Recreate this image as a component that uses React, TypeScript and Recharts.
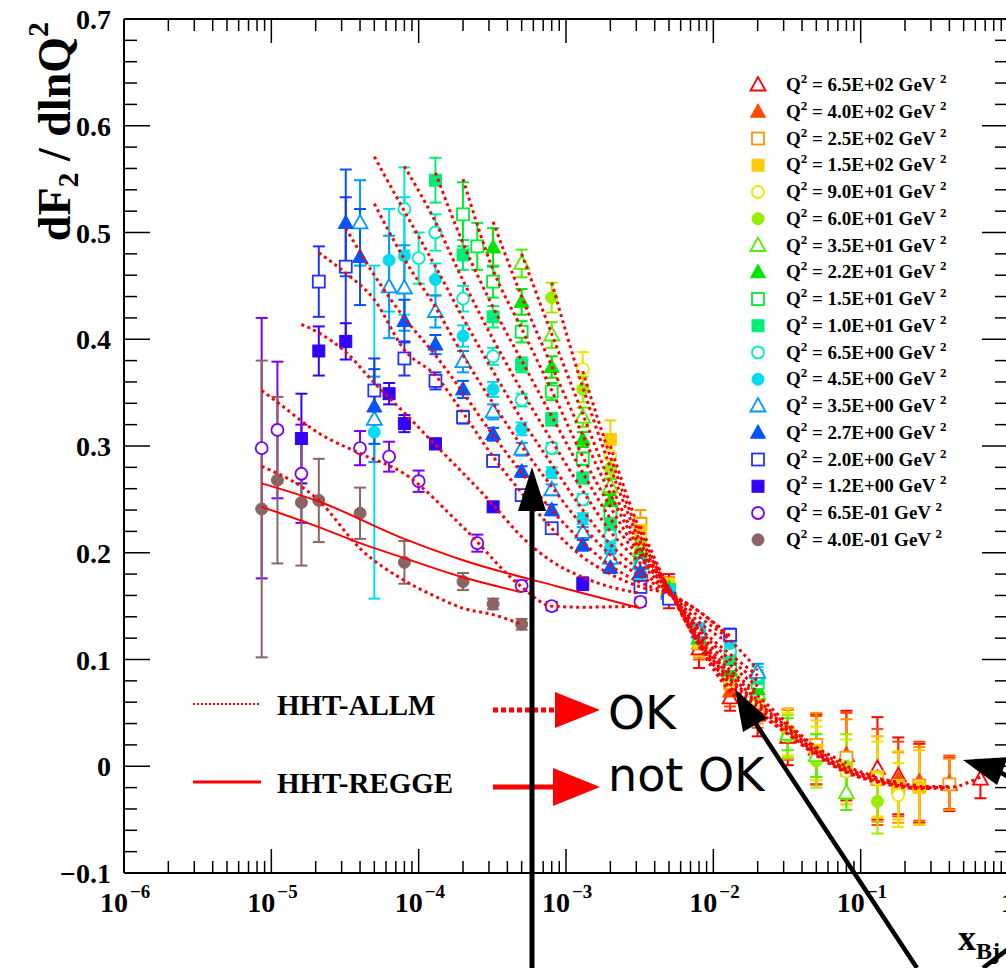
import React from 'react';
import { ComposedChart, Scatter, Line, XAxis, YAxis, ErrorBar } from 'recharts';

const SERIF = "'Liberation Serif','Times New Roman',Times,serif";
const COMIC = "'Comic Sans MS','DejaVu Sans',sans-serif";

// data points: [x, dF2/dlnQ2, error]
const q650 = [[5.0e-3, 0.164, 0.016], [8.0e-3, 0.110, 0.018], [1.3e-2, 0.064, 0.012], [2.0e-2, 0.048, 0.020], [3.2e-2, 0.027, 0.026], [5.0e-2, 0.016, 0.033], [8.0e-2, 0.010, 0.042], [1.3e-1, -0.002, 0.048], [1.8e-1, -0.009, 0.036], [2.5e-1, -0.016, 0.037], [4.0e-1, -0.017, 0.025], [6.5e-1, -0.012, 0.018]];
const q400 = [[5.0e-3, 0.165, 0.012], [8.0e-3, 0.115, 0.015], [1.3e-2, 0.070, 0.014], [2.0e-2, 0.052, 0.016], [3.2e-2, 0.030, 0.024], [5.0e-2, 0.015, 0.032], [8.0e-2, 0.010, 0.040], [1.3e-1, -0.010, 0.045], [1.8e-1, -0.012, 0.035], [2.5e-1, -0.014, 0.037], [4.0e-1, -0.015, 0.025]];
const q250 = [[3.2e-3, 0.227, 0.013], [5.0e-3, 0.165, 0.010], [8.0e-3, 0.115, 0.013], [1.3e-2, 0.078, 0.013], [2.0e-2, 0.055, 0.015], [3.2e-2, 0.030, 0.023], [5.0e-2, 0.020, 0.030], [8.0e-2, 0.008, 0.036], [1.3e-1, -0.012, 0.040], [1.8e-1, -0.020, 0.033], [2.5e-1, -0.018, 0.036], [4.0e-1, -0.017, 0.024]];
const q150 = [[2.0e-3, 0.306, 0.018], [3.2e-3, 0.221, 0.012], [5.0e-3, 0.168, 0.008], [8.0e-3, 0.116, 0.012], [1.3e-2, 0.080, 0.012], [2.0e-2, 0.058, 0.014], [3.2e-2, 0.032, 0.022], [5.0e-2, 0.015, 0.028], [8.0e-2, -0.003, 0.033], [1.3e-1, -0.010, 0.038], [1.8e-1, -0.018, 0.032], [2.5e-1, -0.020, 0.035]];
const q90 = [[1.3e-3, 0.372, 0.016], [2.0e-3, 0.291, 0.012], [3.2e-3, 0.214, 0.009], [5.0e-3, 0.168, 0.007], [8.0e-3, 0.117, 0.010], [1.3e-2, 0.082, 0.011], [2.0e-2, 0.060, 0.013], [3.2e-2, 0.030, 0.020], [5.0e-2, 0.012, 0.025], [8.0e-2, -0.005, 0.030], [1.3e-1, -0.012, 0.035], [1.8e-1, -0.027, 0.030]];
const q60 = [[8.0e-4, 0.439, 0.014], [1.3e-3, 0.353, 0.012], [2.0e-3, 0.279, 0.009], [3.2e-3, 0.209, 0.007], [5.0e-3, 0.167, 0.006], [8.0e-3, 0.118, 0.009], [1.3e-2, 0.085, 0.010], [2.0e-2, 0.065, 0.012], [3.2e-2, 0.028, 0.020], [5.0e-2, 0.005, 0.025], [8.0e-2, 0.000, 0.030], [1.3e-1, -0.033, 0.030]];
const q35 = [[5.0e-4, 0.471, 0.013], [8.0e-4, 0.404, 0.012], [1.3e-3, 0.327, 0.009], [2.0e-3, 0.262, 0.007], [3.2e-3, 0.202, 0.006], [5.0e-3, 0.167, 0.006], [8.0e-3, 0.120, 0.008], [1.3e-2, 0.087, 0.009], [2.0e-2, 0.068, 0.010], [3.2e-2, 0.030, 0.015], [5.0e-2, 0.010, 0.020], [8.0e-2, -0.025, 0.016]];
const q22 = [[3.2e-4, 0.486, 0.018], [5.0e-4, 0.435, 0.012], [8.0e-4, 0.374, 0.010], [1.3e-3, 0.306, 0.007], [2.0e-3, 0.248, 0.006], [3.2e-3, 0.198, 0.005], [5.0e-3, 0.166, 0.005], [8.0e-3, 0.120, 0.007], [1.3e-2, 0.090, 0.008], [2.0e-2, 0.072, 0.009]];
const q15 = [[2.0e-4, 0.517, 0.030], [2.5e-4, 0.487, 0.022], [3.2e-4, 0.454, 0.015], [5.0e-4, 0.407, 0.010], [8.0e-4, 0.351, 0.008], [1.3e-3, 0.288, 0.006], [2.0e-3, 0.238, 0.005], [3.2e-3, 0.193, 0.005], [5.0e-3, 0.165, 0.005], [8.0e-3, 0.122, 0.007], [1.3e-2, 0.095, 0.008], [2.0e-2, 0.078, 0.009]];
const q10 = [[1.3e-4, 0.549, 0.021], [2.0e-4, 0.479, 0.014], [3.2e-4, 0.421, 0.010], [5.0e-4, 0.376, 0.007], [8.0e-4, 0.325, 0.006], [1.3e-3, 0.270, 0.005], [2.0e-3, 0.227, 0.005], [3.2e-3, 0.191, 0.005], [5.0e-3, 0.165, 0.005], [8.0e-3, 0.124, 0.006], [1.3e-2, 0.100, 0.007], [2.0e-2, 0.082, 0.008]];
const q6_5 = [[8.0e-5, 0.522, 0.039], [1.0e-4, 0.476, 0.024], [1.3e-4, 0.500, 0.017], [2.0e-4, 0.438, 0.012], [3.2e-4, 0.384, 0.008], [5.0e-4, 0.343, 0.006], [8.0e-4, 0.298, 0.005], [1.3e-3, 0.250, 0.005], [2.0e-3, 0.216, 0.005], [3.2e-3, 0.187, 0.005], [5.0e-3, 0.164, 0.005], [8.0e-3, 0.126, 0.006], [1.3e-2, 0.108, 0.007], [2.0e-2, 0.085, 0.008]];
const q4_5 = [[5.0e-5, 0.313, 0.156], [6.3e-5, 0.474, 0.048], [8.0e-5, 0.478, 0.055], [1.3e-4, 0.456, 0.015], [2.0e-4, 0.403, 0.010], [3.2e-4, 0.353, 0.007], [5.0e-4, 0.316, 0.006], [8.0e-4, 0.275, 0.005], [1.3e-3, 0.232, 0.005], [2.0e-3, 0.204, 0.005], [3.2e-3, 0.180, 0.005], [5.0e-3, 0.165, 0.005], [8.0e-3, 0.128, 0.006], [1.3e-2, 0.115, 0.007]];
const q3_5 = [[4.0e-5, 0.509, 0.040], [5.0e-5, 0.325, 0.040], [6.3e-5, 0.449, 0.048], [8.0e-5, 0.448, 0.040], [1.3e-4, 0.426, 0.015], [2.0e-4, 0.379, 0.010], [3.2e-4, 0.332, 0.007], [5.0e-4, 0.297, 0.006], [8.0e-4, 0.259, 0.005], [1.3e-3, 0.219, 0.005], [2.0e-3, 0.195, 0.005], [3.2e-3, 0.190, 0.005], [5.0e-3, 0.162, 0.005], [8.0e-3, 0.126, 0.006], [2.0e-2, 0.088, 0.008]];
const q2_7 = [[3.2e-5, 0.509, 0.050], [4.0e-5, 0.477, 0.045], [5.0e-5, 0.337, 0.035], [8.0e-5, 0.417, 0.020], [1.3e-4, 0.395, 0.009], [2.0e-4, 0.353, 0.008], [3.2e-4, 0.311, 0.006], [5.0e-4, 0.276, 0.005], [8.0e-4, 0.240, 0.005], [1.3e-3, 0.207, 0.005], [2.0e-3, 0.186, 0.005], [3.2e-3, 0.182, 0.005]];
const q2_0 = [[2.1e-5, 0.454, 0.033], [3.2e-5, 0.468, 0.065], [5.0e-5, 0.352, 0.030], [8.0e-5, 0.382, 0.016], [1.3e-4, 0.361, 0.008], [2.0e-4, 0.327, 0.006], [3.2e-4, 0.286, 0.005], [5.0e-4, 0.254, 0.004], [8.0e-4, 0.223, 0.004], [3.2e-3, 0.168, 0.004], [5.0e-3, 0.157, 0.004], [1.3e-2, 0.123, 0.006]];
const q1_2 = [[1.6e-5, 0.307, 0.042], [2.1e-5, 0.389, 0.023], [3.2e-5, 0.398, 0.017], [6.3e-5, 0.349, 0.010], [8.0e-5, 0.321, 0.008], [1.3e-4, 0.302, 0.005], [3.2e-4, 0.243, 0.004], [1.3e-3, 0.171, 0.006]];
const q0_65 = [[8.6e-6, 0.298, 0.122], [1.1e-5, 0.315, 0.064], [1.6e-5, 0.274, 0.046], [4.0e-5, 0.298, 0.016], [6.3e-5, 0.290, 0.014], [1.0e-4, 0.267, 0.010], [2.5e-4, 0.209, 0.008], [5.0e-4, 0.169, 0.005], [8.0e-4, 0.150, 0.004], [3.2e-3, 0.154, 0.004]];
const q0_40 = [[8.6e-6, 0.241, 0.139], [1.1e-5, 0.268, 0.078], [1.6e-5, 0.247, 0.059], [2.1e-5, 0.249, 0.039], [4.0e-5, 0.237, 0.024], [8.0e-5, 0.191, 0.020], [2.0e-4, 0.173, 0.008], [3.2e-4, 0.152, 0.005], [5.0e-4, 0.133, 0.005]];

// HHT-ALLM curves: [x, value]
const allm650 = [[8.0e-3, 0.112], [1.3e-2, 0.070], [2.0e-2, 0.050], [3.2e-2, 0.030], [5.0e-2, 0.010], [8.0e-2, -0.006], [1.3e-1, -0.015], [1.8e-1, -0.019], [2.5e-1, -0.021], [4.0e-1, -0.020], [6.5e-1, -0.010]];
const allm400 = [[5.0e-3, 0.166], [8.0e-3, 0.113], [1.3e-2, 0.074], [2.0e-2, 0.052], [3.2e-2, 0.031], [5.0e-2, 0.011], [8.0e-2, -0.005], [1.3e-1, -0.014], [1.8e-1, -0.018], [2.5e-1, -0.020], [4.0e-1, -0.020]];
const allm250 = [[3.2e-3, 0.225], [5.0e-3, 0.166], [8.0e-3, 0.114], [1.3e-2, 0.077], [2.0e-2, 0.055], [3.2e-2, 0.033], [5.0e-2, 0.012], [8.0e-2, -0.004], [1.3e-1, -0.013], [1.8e-1, -0.017], [2.5e-1, -0.019], [4.0e-1, -0.019]];
const allm150 = [[2.0e-3, 0.300], [3.2e-3, 0.220], [5.0e-3, 0.166], [8.0e-3, 0.115], [1.3e-2, 0.080], [2.0e-2, 0.058], [3.2e-2, 0.034], [5.0e-2, 0.013], [8.0e-2, -0.003], [1.3e-1, -0.012], [1.8e-1, -0.016], [2.5e-1, -0.018]];
const allm90 = [[1.3e-3, 0.370], [2.0e-3, 0.290], [3.2e-3, 0.215], [5.0e-3, 0.166], [8.0e-3, 0.117], [1.3e-2, 0.082], [2.0e-2, 0.060], [3.2e-2, 0.036], [5.0e-2, 0.014], [8.0e-2, -0.002], [1.3e-1, -0.011], [1.8e-1, -0.015]];
const allm60 = [[8.0e-4, 0.453], [1.3e-3, 0.355], [2.0e-3, 0.280], [3.2e-3, 0.210], [5.0e-3, 0.165], [8.0e-3, 0.118], [1.3e-2, 0.085], [2.0e-2, 0.062], [3.2e-2, 0.038], [5.0e-2, 0.016], [8.0e-2, 0.000], [1.3e-1, -0.010]];
const allm35 = [[5.0e-4, 0.480], [8.0e-4, 0.405], [1.3e-3, 0.330], [2.0e-3, 0.265], [3.2e-3, 0.205], [5.0e-3, 0.165], [8.0e-3, 0.120], [1.3e-2, 0.087], [2.0e-2, 0.066], [3.2e-2, 0.040], [5.0e-2, 0.018], [8.0e-2, 0.003]];
const allm22 = [[3.2e-4, 0.510], [5.0e-4, 0.440], [8.0e-4, 0.375], [1.3e-3, 0.310], [2.0e-3, 0.255], [3.2e-3, 0.202], [5.0e-3, 0.165], [8.0e-3, 0.122], [1.3e-2, 0.090], [2.0e-2, 0.070]];
const allm15 = [[2.0e-4, 0.550], [3.2e-4, 0.465], [5.0e-4, 0.410], [8.0e-4, 0.352], [1.3e-3, 0.290], [2.0e-3, 0.243], [3.2e-3, 0.198], [5.0e-3, 0.164], [8.0e-3, 0.125], [1.3e-2, 0.095], [2.0e-2, 0.075]];
const allm10 = [[1.3e-4, 0.556], [2.0e-4, 0.490], [3.2e-4, 0.430], [5.0e-4, 0.380], [8.0e-4, 0.328], [1.3e-3, 0.275], [2.0e-3, 0.232], [3.2e-3, 0.195], [5.0e-3, 0.164], [8.0e-3, 0.128], [1.3e-2, 0.100], [2.0e-2, 0.080]];
const allm6_5 = [[8.0e-5, 0.562], [1.3e-4, 0.510], [2.0e-4, 0.455], [3.2e-4, 0.400], [5.0e-4, 0.352], [8.0e-4, 0.305], [1.3e-3, 0.258], [2.0e-3, 0.220], [3.2e-3, 0.190], [5.0e-3, 0.163], [8.0e-3, 0.130], [1.3e-2, 0.105], [2.0e-2, 0.085]];
const allm4_5 = [[5.0e-5, 0.571], [8.0e-5, 0.520], [1.3e-4, 0.468], [2.0e-4, 0.420], [3.2e-4, 0.370], [5.0e-4, 0.325], [8.0e-4, 0.283], [1.3e-3, 0.240], [2.0e-3, 0.208], [3.2e-3, 0.183], [5.0e-3, 0.163], [8.0e-3, 0.135], [1.3e-2, 0.115]];
const allm3_5 = [[5.0e-5, 0.527], [8.0e-5, 0.475], [1.3e-4, 0.430], [2.0e-4, 0.385], [3.2e-4, 0.340], [5.0e-4, 0.300], [8.0e-4, 0.262], [1.3e-3, 0.225], [2.0e-3, 0.198], [3.2e-3, 0.178], [5.0e-3, 0.163], [8.0e-3, 0.140], [1.3e-2, 0.118], [2.0e-2, 0.090]];
const allm2_7 = [[3.2e-5, 0.504], [5.0e-5, 0.460], [8.0e-5, 0.420], [1.3e-4, 0.385], [2.0e-4, 0.350], [3.2e-4, 0.310], [5.0e-4, 0.275], [8.0e-4, 0.240], [1.3e-3, 0.210], [2.0e-3, 0.188], [3.2e-3, 0.172], [5.0e-3, 0.162], [8.0e-3, 0.145], [1.3e-2, 0.120]];
const allm2_0 = [[2.1e-5, 0.481], [3.2e-5, 0.462], [5.0e-5, 0.437], [8.0e-5, 0.390], [1.3e-4, 0.366], [2.0e-4, 0.331], [3.2e-4, 0.290], [5.0e-4, 0.256], [8.0e-4, 0.223], [1.3e-3, 0.196], [2.0e-3, 0.180], [3.2e-3, 0.168], [5.0e-3, 0.161], [8.0e-3, 0.145], [1.3e-2, 0.122]];
const allm1_2 = [[1.6e-5, 0.414], [2.1e-5, 0.406], [3.2e-5, 0.388], [5.0e-5, 0.359], [8.0e-5, 0.331], [1.3e-4, 0.301], [3.2e-4, 0.245], [5.0e-4, 0.215], [8.0e-4, 0.192], [1.3e-3, 0.177], [2.0e-3, 0.168], [3.2e-3, 0.162]];
const allm0_65 = [[8.6e-6, 0.352], [1.1e-5, 0.341], [2.1e-5, 0.312], [4.0e-5, 0.293], [8.0e-5, 0.274], [2.0e-4, 0.224], [5.0e-4, 0.168], [8.0e-4, 0.150], [1.3e-3, 0.149], [3.2e-3, 0.150]];
const allm0_40 = [[8.6e-6, 0.281], [2.1e-5, 0.249], [4.0e-5, 0.204], [8.0e-5, 0.174], [1.3e-4, 0.159], [2.0e-4, 0.148], [3.2e-4, 0.142], [5.0e-4, 0.133]];

// HHT-REGGE curves
const regge0_65 = [[8.6e-6, 0.265], [2.1e-5, 0.248], [8.0e-5, 0.213], [2.0e-4, 0.193], [9.0e-4, 0.168], [3.2e-3, 0.148]];
const regge0_40 = [[8.6e-6, 0.243], [2.1e-5, 0.224], [4.0e-5, 0.209], [8.0e-5, 0.195], [2.0e-4, 0.177], [5.0e-4, 0.163]];

const series = [
  { label: '6.5E+02', color: '#ff0000', kind: 'triOpen', pts: q650, allm: allm650 },
  { label: '4.0E+02', color: '#ff4a00', kind: 'tri', pts: q400, allm: allm400 },
  { label: '2.5E+02', color: '#ff9500', kind: 'sqOpen', pts: q250, allm: allm250 },
  { label: '1.5E+02', color: '#ffcc00', kind: 'sq', pts: q150, allm: allm150 },
  { label: '9.0E+01', color: '#e8e800', kind: 'circOpen', pts: q90, allm: allm90 },
  { label: '6.0E+01', color: '#99ee00', kind: 'circ', pts: q60, allm: allm60 },
  { label: '3.5E+01', color: '#55ee00', kind: 'triOpen', pts: q35, allm: allm35 },
  { label: '2.2E+01', color: '#00e600', kind: 'tri', pts: q22, allm: allm22 },
  { label: '1.5E+01', color: '#00ee33', kind: 'sqOpen', pts: q15, allm: allm15 },
  { label: '1.0E+01', color: '#00ee77', kind: 'sq', pts: q10, allm: allm10 },
  { label: '6.5E+00', color: '#00eebb', kind: 'circOpen', pts: q6_5, allm: allm6_5 },
  { label: '4.5E+00', color: '#00ddee', kind: 'circ', pts: q4_5, allm: allm4_5 },
  { label: '3.5E+00', color: '#0099ff', kind: 'triOpen', pts: q3_5, allm: allm3_5 },
  { label: '2.7E+00', color: '#0055ff', kind: 'tri', pts: q2_7, allm: allm2_7 },
  { label: '2.0E+00', color: '#2233ff', kind: 'sqOpen', pts: q2_0, allm: allm2_0 },
  { label: '1.2E+00', color: '#3300ff', kind: 'sq', pts: q1_2, allm: allm1_2 },
  { label: '6.5E-01', color: '#7700ff', kind: 'circOpen', pts: q0_65, allm: allm0_65 },
  { label: '4.0E-01', color: '#8c6464', kind: 'circ', pts: q0_40, allm: allm0_40 },
];

const reggeCurves = [regge0_65, regge0_40];

const xMajor = [1e-6, 1e-5, 1e-4, 1e-3, 1e-2, 1e-1, 1];
const xMajorLabels = ['\u22126', '\u22125', '\u22124', '\u22123', '\u22122', '\u22121', ''];
const yMajor = [-0.1, 0, 0.1, 0.2, 0.3, 0.4, 0.5, 0.6, 0.7];
const yMajorLabels = ['\u22120.1', '0', '0.1', '0.2', '0.3', '0.4', '0.5', '0.6', '0.7'];

const xTicks: number[] = [];
for (let e = -6; e < 0; e++) {
  for (let m = 1; m <= 9; m++) xTicks.push(Number((m * Math.pow(10, e)).toPrecision(3)));
}
xTicks.push(1);
const yTicks: number[] = [];
for (let i = -5; i <= 35; i++) yTicks.push(Math.round(i * 2) / 100);

const toPts = (arr: number[][]) => arr.map(([x, y, e]) => ({ x, y, e }));
const toCurve = (arr: number[][]) => arr.map(([x, y]) => ({ x, y }));

const isXMajor = (v: number) => xMajor.some((m) => Math.abs(m - v) / m < 1e-6);
const yMajorIdx = (v: number) => yMajor.findIndex((m) => Math.abs(m - v) < 1e-6);

function Mark({ kind, cx, cy, color, s = 1 }: any) {
  const open = kind.endsWith('Open');
  const fill = open ? '#fff' : color;
  const sw = open ? 1.8 : 1;
  if (kind.startsWith('circ')) return <circle cx={cx} cy={cy} r={6 * s} fill={fill} stroke={color} strokeWidth={sw} />;
  if (kind.startsWith('sq')) return <rect x={cx - 6 * s} y={cy - 6 * s} width={12 * s} height={12 * s} fill={fill} stroke={color} strokeWidth={sw} />;
  return (
    <polygon
      points={`${cx},${cy - 8 * s} ${cx - 7.5 * s},${cy + 5.5 * s} ${cx + 7.5 * s},${cy + 5.5 * s}`}
      fill={fill}
      stroke={color}
      strokeWidth={sw}
    />
  );
}

function BottomTick({ x, y, payload }: any) {
  const v = payload.value;
  const major = isXMajor(v);
  const idx = xMajor.findIndex((m) => Math.abs(m - v) / m < 1e-6);
  return (
    <g>
      <line x1={x} x2={x} y1={y} y2={y - (major ? 24 : 12)} stroke="#000" strokeWidth={1.5} />
      {major && v === 1 && (
        <text x={x} y={y + 39} textAnchor="middle" fontFamily={SERIF} fontWeight="bold" fontSize={28}>1</text>
      )}
      {major && v !== 1 && (
        <g fontFamily={SERIF} fontWeight="bold">
          <text x={x + 4} y={y + 39} textAnchor="end" fontSize={28}>10</text>
          <text x={x + 6} y={y + 25} fontSize={19}>{xMajorLabels[idx]}</text>
        </g>
      )}
    </g>
  );
}

function TopTick({ x, y, payload }: any) {
  const major = isXMajor(payload.value);
  return <line x1={x} x2={x} y1={y} y2={y + (major ? 24 : 12)} stroke="#000" strokeWidth={1.5} />;
}

function LeftTick({ x, y, payload }: any) {
  const idx = yMajorIdx(payload.value);
  const major = idx >= 0;
  return (
    <g>
      <line x1={x} x2={x + (major ? 26 : 13)} y1={y} y2={y} stroke="#000" strokeWidth={1.5} />
      {major && (
        <text x={x - 13} y={y + 10} textAnchor="end" fontFamily={SERIF} fontWeight="bold" fontSize={28}>
          {yMajorLabels[idx]}
        </text>
      )}
    </g>
  );
}

function RightTick({ x, y, payload }: any) {
  const major = yMajorIdx(payload.value) >= 0;
  return <line x1={x} x2={x - (major ? 26 : 13)} y1={y} y2={y} stroke="#000" strokeWidth={1.5} />;
}

function Overlay() {
  return (
    <svg width={1006} height={968} style={{ position: 'absolute', left: 0, top: 0, pointerEvents: 'none' }}>
      {/* y axis title */}
      <text
        transform="translate(70,22) rotate(-90)"
        textAnchor="end"
        fontFamily={SERIF}
        fontWeight="bold"
        fontSize={46}
      >
        dF<tspan fontSize={30} dy={8}>2</tspan>
        <tspan dy={-8}> / dlnQ</tspan>
        <tspan fontSize={30} dy={-22}>2</tspan>
      </text>

      {/* x axis title */}
      <text x={958} y={950} fontFamily={SERIF} fontWeight="bold" fontSize={36}>
        x<tspan fontSize={24} dy={9}>Bj</tspan>
      </text>

      {/* Q2 legend */}
      {series.map((s, i) => {
        const cy = 85 + i * 26.75;
        return (
          <g key={s.label}>
            <Mark kind={s.kind} cx={758} cy={cy} color={s.color} />
            <text x={786} y={cy + 6} fontFamily={SERIF} fontWeight="bold" fontSize={19}>
              Q<tspan fontSize={13} dy={-8}>2</tspan>
              <tspan dy={8}>{` = ${s.label} GeV `}</tspan>
              <tspan fontSize={13} dy={-8}>2</tspan>
            </text>
          </g>
        );
      })}

      {/* model legend */}
      <line x1={193} x2={261} y1={704} y2={704} stroke="#ff0000" strokeWidth={2} strokeDasharray="2 2" />
      <text x={277} y={715} fontFamily={SERIF} fontWeight="bold" fontSize={29}>HHT-ALLM</text>
      <line x1={193} x2={261} y1={782} y2={782} stroke="#ff0000" strokeWidth={3} />
      <text x={277} y={793} fontFamily={SERIF} fontWeight="bold" fontSize={29}>HHT-REGGE</text>

      {/* red arrows and remarks */}
      <line x1={493} x2={558} y1={710} y2={710} stroke="#ff0000" strokeWidth={5} strokeDasharray="5 3" />
      <polygon points="555,692 600,710 555,728" fill="#ff0000" />
      <line x1={493} x2={558} y1={787} y2={787} stroke="#ff0000" strokeWidth={5} />
      <polygon points="553,768 600,787 553,806" fill="#ff0000" />
      <text x={608} y={729} fontFamily={COMIC} fontSize={47}>OK</text>
      <text x={608} y={791} fontFamily={COMIC} fontSize={46}>not OK</text>

      {/* black arrows */}
      <line x1={532} x2={532} y1={968} y2={505} stroke="#000" strokeWidth={5} />
      <polygon points="518,511 532,467 546,511" fill="#000" />
      <line x1={917} y1={968} x2={752} y2={718} stroke="#000" strokeWidth={4.5} />
      <polygon points="735,689 743,732 767,718" fill="#000" />
      <line x1={1000} y1={772} x2={1030} y2={790} stroke="#000" strokeWidth={4.5} />
      <polygon points="963,760 997,785 1008,757" fill="#000" />
      <line x1={983} y1={968} x2={1012} y2={946} stroke="#000" strokeWidth={4.5} />
    </svg>
  );
}

export default function App() {
  return (
    <div style={{ position: 'fixed', left: 0, top: 0, width: 1006, height: 968, overflow: 'hidden', background: '#fff' }}>
      <ComposedChart width={1030} height={968} margin={{ top: 17, right: 20, bottom: 0, left: 0 }}>
        <XAxis
          dataKey="x"
          type="number"
          scale="log"
          domain={[1e-6, 1]}
          allowDataOverflow
          ticks={xTicks}
          interval={0}
          tick={BottomTick}
          tickLine={false}
          tickSize={0}
          tickMargin={0}
          height={95}
          axisLine={{ stroke: '#000', strokeWidth: 2 }}
        />
        <XAxis
          xAxisId="top"
          orientation="top"
          dataKey="x"
          type="number"
          scale="log"
          domain={[1e-6, 1]}
          allowDataOverflow
          ticks={xTicks}
          interval={0}
          tick={TopTick}
          tickLine={false}
          tickSize={0}
          tickMargin={0}
          height={2}
          axisLine={{ stroke: '#000', strokeWidth: 2 }}
        />
        <YAxis
          dataKey="y"
          type="number"
          domain={[-0.1, 0.7]}
          allowDataOverflow
          ticks={yTicks}
          interval={0}
          tick={LeftTick}
          tickLine={false}
          tickSize={0}
          tickMargin={0}
          width={124}
          axisLine={{ stroke: '#000', strokeWidth: 2 }}
        />
        <YAxis
          yAxisId="right"
          orientation="right"
          type="number"
          domain={[-0.1, 0.7]}
          allowDataOverflow
          ticks={yTicks}
          interval={0}
          tick={RightTick}
          tickLine={false}
          tickSize={0}
          tickMargin={0}
          width={2}
          axisLine={{ stroke: '#000', strokeWidth: 2 }}
        />
        {series.map((s) => (
          <Scatter
            key={'p' + s.label}
            data={toPts(s.pts)}
            isAnimationActive={false}
            shape={(p: any) => <Mark kind={s.kind} cx={p.cx} cy={p.cy} color={s.color} />}
          >
            <ErrorBar dataKey="e" direction="y" width={6} stroke={s.color} strokeWidth={2} />
          </Scatter>
        ))}
        {series.map((s) => (
          <Line
            key={'a' + s.label}
            data={toCurve(s.allm)}
            dataKey="y"
            type="monotone"
            stroke="#ff0000"
            strokeWidth={3}
            strokeDasharray="3 3.5"
            dot={false}
            activeDot={false}
            isAnimationActive={false}
            {...({ zIndex: 700 } as any)}
          />
        ))}
        {reggeCurves.map((c, i) => (
          <Line
            key={'r' + i}
            data={toCurve(c)}
            dataKey="y"
            type="monotone"
            stroke="#ff0000"
            strokeWidth={2}
            dot={false}
            activeDot={false}
            isAnimationActive={false}
            {...({ zIndex: 700 } as any)}
          />
        ))}
      </ComposedChart>
      <Overlay />
    </div>
  );
}
